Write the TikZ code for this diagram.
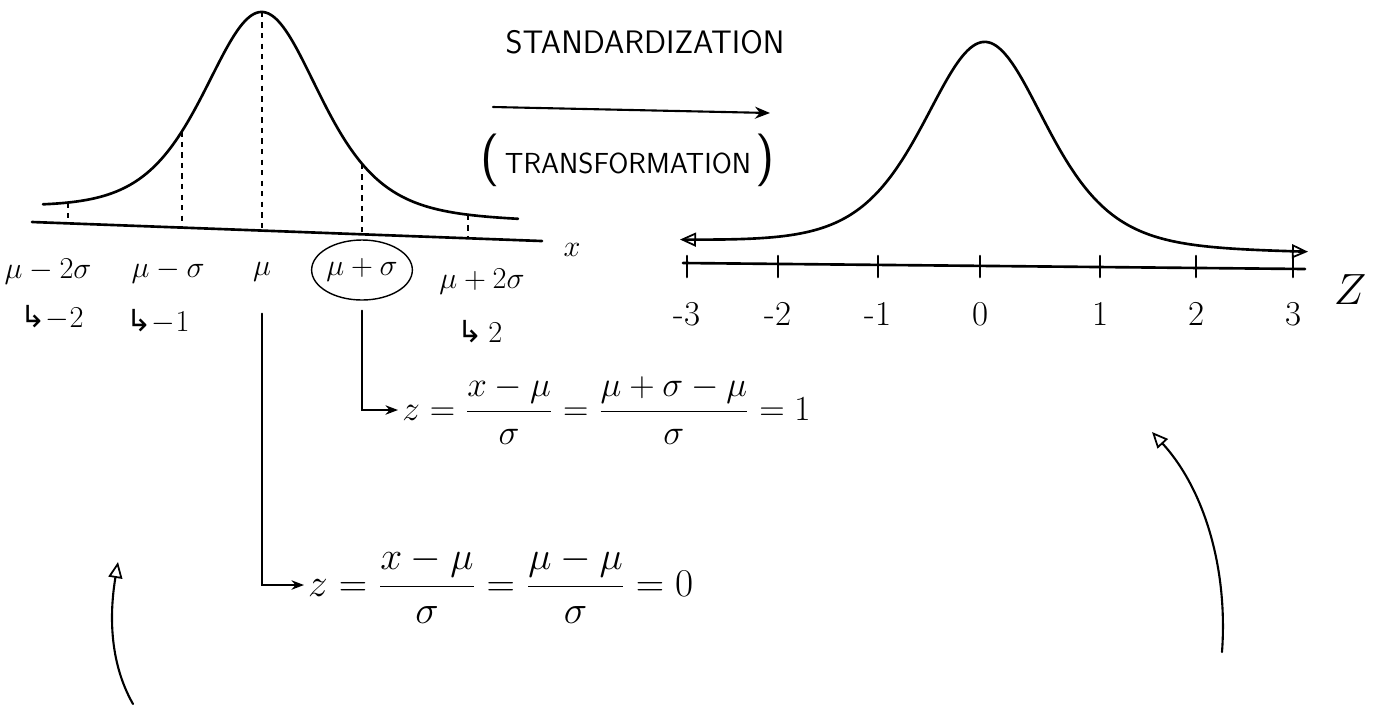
\documentclass[tikz,border=0pt]{standalone}
\usepackage{amsmath}
\usepackage{fontspec}
\usetikzlibrary{arrows.meta,shapes.geometric}
\newfontfamily\dvsfont{DejaVu Sans}

\tikzset{
  curve/.style={line width=1.5pt, line cap=round, line join=round},
  guide/.style={line width=0.8pt, dash pattern=on 3pt off 3pt},
  conn/.style={line width=1.2pt, line cap=round},
  lbl/.style={font=\fontsize{17.28}{18}\selectfont, inner sep=1pt},
  word/.style={font=\sffamily\fontsize{18.5}{19}\selectfont, inner sep=1pt},
  formula/.style={font=\fontsize{17.28}{18}\selectfont, inner sep=2pt, anchor=west},
  opentip/.tip={Triangle[open, length=3.2mm, width=2.8mm, line width=1pt]},
  declare function={
    bellx(\t)=207+0.027*(\t-43)-201/(cosh((\t-262)/77))^2;
    axisx(\t)=222+0.0373*(\t-32);
    bellz(\t)=240+0.0191*(\t-680)-204/(cosh((\t-985)/82))^2;
  }
}

\begin{document}
\begin{tikzpicture}[x=0.2mm, y=-0.2mm]
    \useasboundingbox (0,0) rectangle (1379,706);

    % Original distribution (x)
    \draw[curve] plot[domain=43:518, samples=100, smooth] (\x, {bellx(\x)});
    \draw[curve] (32,{axisx(32)}) -- (542,{axisx(542)});
    \foreach \g in {68,182,262,362,468}
        \draw[guide] (\g,{bellx(\g)}) -- (\g,{axisx(\g)});

    \node[lbl] (m2s) at (48,272) {$\mu-2\sigma$};
    \node[lbl] (m1s) at (168,272) {$\mu-\sigma$};
    \node[lbl] (mu) at (262,272) {$\mu$};
    \node[lbl, draw, ellipse, line width=0.8pt, minimum width=17mm, minimum height=12mm, inner sep=0pt] (p1s) at (362,270) {$\mu+\sigma$};
    \node[lbl] (p2s) at (482,282) {$\mu+2\sigma$};
    \node[lbl] (xlab) at (572,250) {$x$};

    \node[lbl] (zm2) at (52,318) {{\dvsfont ↳}$-2$};
    \node[lbl] (zm1) at (158,322) {{\dvsfont ↳}$-1$};
    \node[lbl] (zp2) at (480,332) {{\dvsfont ↳}$\,2$};

    % Worked z-values
    \node[formula, scale=1.16] (f1) at (398,410) {$z = \dfrac{x-\mu}{\sigma} = \dfrac{\mu+\sigma-\mu}{\sigma} = 1$};
    \node[formula, font=\fontsize{20.74}{21}\selectfont, scale=1.08] (f0) at (304,585) {$z = \dfrac{x-\mu}{\sigma} = \dfrac{\mu-\mu}{\sigma} = 0$};
    \draw[conn, -{Stealth[length=2.5mm]}] ([yshift=-2mm]p1s.south) |- (f1.west);
    \draw[conn, -{Stealth[length=2.5mm]}] ([yshift=-6mm]mu.south) |- (f0.west);

    % Transformation arrow
    \node[word] (std) at (645,42) {STANDARDIZATION};
    \node[word, font=\sffamily\fontsize{16.5}{17}\selectfont] (trf) at (628,160) {{\fontsize{30}{30}\selectfont(}\,TRANSFORMATION\,{\fontsize{30}{30}\selectfont)}};
    \coordinate (ta) at (493,107);
    \coordinate (tb) at (770,113);
    \draw[conn, -{Stealth[length=3mm, width=2.4mm]}] (ta) -- (tb);

    % Standard normal (z)
    \draw[curve, {opentip}-{opentip}] plot[domain=680:1308, samples=120, smooth] (\x, {bellz(\x)});
    \draw[curve] (683,263) -- (1305,269);
    \foreach \x/\lab [count=\i] in {687/-3, 778/-2, 878/-1, 980/0, 1100/1, 1196/2, 1293/3} {
        \draw[curve] (\x,256) -- (\x,277);
        \node[lbl, scale=1.15] (zt\i) at (\x,314) {\lab};
    }
    \node[lbl, font=\fontsize{20.74}{21}\selectfont, scale=1.2] (zlab) at (1350,290) {$Z$};

    % Loose arrows
    \coordinate (la0) at (133,704);
    \coordinate (la1) at (118,562);
    \draw[conn, -{opentip}] (la0) .. controls (108,660) and (110,610) .. (la1);
    \coordinate (ra0) at (1222,652);
    \coordinate (ra1) at (1152,432);
    \draw[conn, -{opentip}] (ra0) .. controls (1228,570) and (1205,490) .. (ra1);
\end{tikzpicture}
\end{document}
